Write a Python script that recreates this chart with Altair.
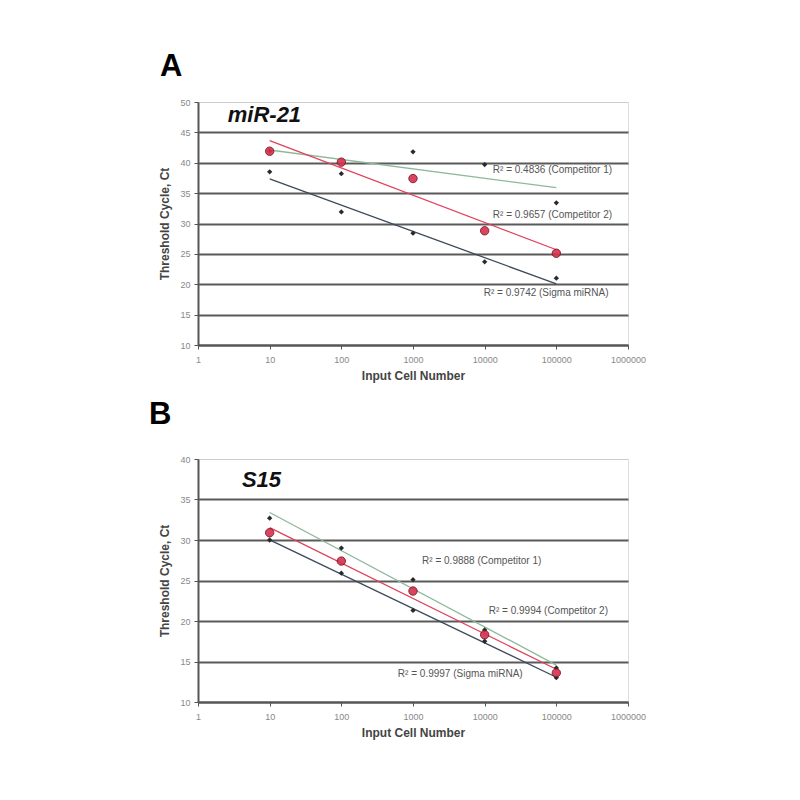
import altair as alt
import pandas as pd

# ---------------- data ----------------
cells = [10, 100, 1000, 10000, 100000]
series_names = ["Competitor 1", "Competitor 2", "Sigma"]

a_comp1 = [41.9, 38.2, 41.8, 39.7, 33.4]
a_comp2 = [41.9, 40.1, 37.4, 28.8, 25.1]
a_sigma = [38.5, 31.9, 28.4, 23.7, 21.0]

b_comp1 = [32.7, 29.0, 25.1, 18.9, 14.2]
b_comp2 = [30.9, 27.4, 23.7, 18.3, 13.6]
b_sigma = [30.0, 25.9, 21.3, 17.5, 13.0]

x_ticks = [1, 10, 100, 1000, 10000, 100000, 1000000]
a_y_ticks = [10, 15, 20, 25, 30, 35, 40, 45, 50]
b_y_ticks = [10, 15, 20, 25, 30, 35, 40]

a_r2_text = ["R\u00b2 = 0.4836 (Competitor 1)", "R\u00b2 = 0.9657 (Competitor 2)", "R\u00b2 = 0.9742 (Sigma miRNA)"]
a_r2_x = [13000, 13000, 9700]
a_r2_y = [38.8, 31.4, 18.5]

b_r2_text = ["R\u00b2 = 0.9888 (Competitor 1)", "R\u00b2 = 0.9994 (Competitor 2)", "R\u00b2 = 0.9997 (Sigma miRNA)"]
b_r2_x = [1340, 11400, 615]
b_r2_y = [27.4, 21.2, 13.4]

line_colors = ["#8fb89a", "#e0405a", "#3c4a5c"]
FONT = "Liberation Sans"


def long_df(c1, c2, sg):
    rows = []
    for name, vals in zip(series_names, [c1, c2, sg]):
        for c, v in zip(cells, vals):
            rows.append({"series": name, "cells": c, "ct": v})
    return pd.DataFrame(rows)


def panel(df, r2_text, r2_x, r2_y, yticks, gene, gene_x, gene_y, letter, letter_dx, letter_offset):
    ymin, ymax = yticks[0], yticks[-1]
    xscale = alt.Scale(type="log", domain=[1, 1000000])
    yscale = alt.Scale(domain=[ymin, ymax], nice=False, zero=False)
    xax = alt.Axis(values=x_ticks, format="d", title="Input Cell Number", grid=False,
                   labelFontSize=9, labelColor="#888", titleFontSize=12, titleFontWeight="bold",
                   titleColor="#444", domainColor="#555", domainWidth=2, tickColor="#555",
                   tickSize=4, titlePadding=6, labelPadding=6, labelFlush=False, labelOverlap=False)
    yax = alt.Axis(values=yticks, title="Threshold Cycle, Ct", grid=True, labelOverlap=False,
                   gridColor={"condition": {"test": f"datum.value == {ymax}", "value": "#cccccc"}, "value": "#5a5a5a"},
                   gridWidth={"condition": {"test": f"datum.value == {ymax}", "value": 1}, "value": 2},
                   labelFontSize=9, labelColor="#888", titleFontSize=12, titleFontWeight="bold",
                   titleColor="#444", domainColor="#555", domainWidth=2, tickColor="#555",
                   tickSize=4, titlePadding=8, labelPadding=4)

    X = lambda f: alt.X(f, scale=xscale, axis=xax)
    Y = lambda f: alt.Y(f, scale=yscale, axis=yax)

    base = alt.Chart(df)
    color = alt.Color("series:N", scale=alt.Scale(domain=series_names, range=line_colors), legend=None)

    lines = base.transform_calculate(lx="log(datum.cells)/LN10").transform_regression(
        "lx", "ct", groupby=["series"]
    ).transform_calculate(cells="pow(10, datum.lx)").mark_line(strokeWidth=1.3).encode(
        x=X("cells:Q"), y=Y("ct:Q"), color=color,
    )

    dark_pts = base.transform_filter("datum.series != 'Competitor 2'").mark_point(
        shape="diamond", filled=True, size=28, color="#2a2a2a", opacity=1
    ).encode(x=X("cells:Q"), y=Y("ct:Q"))

    red_pts = base.transform_filter("datum.series == 'Competitor 2'").mark_point(
        shape="circle", filled=True, size=70, color="#d8304e", stroke="#7a1020", strokeWidth=1, opacity=0.9
    ).encode(x=X("cells:Q"), y=Y("ct:Q"))

    lab_df = pd.DataFrame({"text": r2_text, "x": r2_x, "y": r2_y})
    labels = alt.Chart(lab_df).mark_text(align="left", baseline="middle", fontSize=10, color="#555", font=FONT).encode(
        x=X("x:Q"), y=Y("y:Q"), text="text:N"
    )

    gene_df = pd.DataFrame({"text": [gene], "x": [gene_x], "y": [gene_y]})
    gene_txt = alt.Chart(gene_df).mark_text(align="left", baseline="middle", fontSize=22, fontWeight="bold",
                                            fontStyle="italic", color="#111", font=FONT).encode(
        x=X("x:Q"), y=Y("y:Q"), text="text:N"
    )

    return alt.layer(lines, dark_pts, red_pts, labels, gene_txt).properties(
        width=430, height=243,
        title=alt.TitleParams(letter, anchor="start", frame="group", dx=letter_dx, offset=letter_offset,
                              fontSize=31, fontWeight="bold", font=FONT, color="#000"),
    )


dfa = long_df(a_comp1, a_comp2, a_sigma)
dfb = long_df(b_comp1, b_comp2, b_sigma)

pa = panel(dfa, a_r2_text, a_r2_x, a_r2_y, a_y_ticks, "miR-21", 2.6, 47.8, "A", -38, 15)
pb = panel(dfb, b_r2_text, b_r2_x, b_r2_y, b_y_ticks, "S15", 4.1, 37.4, "B", -49, 24)

chart = alt.vconcat(pa, pb, spacing=16).properties(
    padding={"left": 140, "top": 42, "right": 5, "bottom": 5}
).configure_view(stroke="#bbbbbb", strokeWidth=1).configure(font=FONT, background="white")

chart.save("out.html", embed_options={"renderer": "svg", "actions": False})
